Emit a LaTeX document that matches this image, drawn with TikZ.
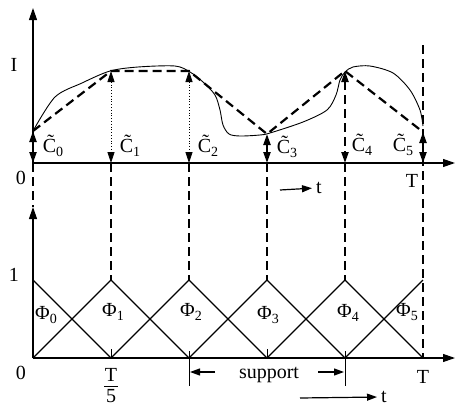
\documentclass[tikz,border=0pt]{standalone}
\usepackage{fontspec}
\setmainfont{Liberation Serif}
\usetikzlibrary{arrows.meta}
\newcommand{\ctil}[1]{\~{C}\raisebox{-0.45ex}{\fontsize{14}{16}\selectfont #1}}
\newcommand{\phil}[1]{Φ\raisebox{-0.4ex}{\fontsize{14}{16}\selectfont #1}}
\begin{document}
\begin{tikzpicture}[x=1pt,y=-1pt,font=\fontsize{20}{23}\selectfont,
  axis/.style={line width=1.2pt,-{Triangle[length=12pt,width=8pt]}},
  hat/.style={line width=1.4pt},
  guide/.style={line width=2.2pt,dash pattern=on 9pt off 5pt},
  cval/.style={{Triangle[length=11pt,width=7pt]}-{Triangle[length=11pt,width=7pt]}},
  small/.style={line width=1.2pt,-{Triangle[length=10pt,width=7pt]}}]
\useasboundingbox (0,0) rectangle (456,407);
\foreach \i/\xx in {0/33,1/111,2/189,3/267,4/345,5/423} {
  \coordinate (a\i) at (\xx,163);
  \coordinate (p\i) at (\xx,280);
  \coordinate (b\i) at (\xx,358);
}
\coordinate (c0) at (33,131);
\coordinate (c1) at (111,71);
\coordinate (c2) at (189,71);
\coordinate (c3) at (267,134);
\coordinate (c4) at (345,71);
\coordinate (c5) at (423,132);
\coordinate (itop) at (33,8);
\coordinate (uend) at (455,163);
\coordinate (ltop) at (33,207);
\coordinate (lend) at (455,358);
\coordinate (ttop) at (423,45);
% axes
\draw[axis] (a0) -- (itop);
\draw[axis] (a0) -- (uend);
\draw[axis] (b0) -- (ltop);
\draw[axis] (b0) -- (lend);
% signal and its linear approximation
\draw[line width=0.9pt] plot[smooth,tension=0.5] coordinates {(33,131) (55,97) (82,83) (110,71) (138,67) (175,66) (190,72) (203,82) (215,95) (220,110) (223,125) (229,134) (240,136) (260,135) (270,133) (303,122) (327,110) (336,95) (340,80) (345,72) (353,67) (370,66) (393,73) (410,90) (420,110) (423,126)};
\draw[guide] (c0) -- (c1) -- (c2) -- (c3) -- (c4) -- (c5);
% coefficients
\draw[cval,guide] (c0) -- (a0);
\draw[cval,line width=0.8pt,dotted] (c1) -- (a1);
\draw[cval,line width=0.8pt,dotted] (c2) -- (a2);
\draw[cval,guide] (c3) -- (a3);
\draw[cval,guide] (c4) -- (a4);
\draw[cval,guide] (c5) -- (a5);
\draw[guide] (a0) -- (ltop);
\foreach \i in {1,...,4} \draw[guide] (a\i) -- (p\i);
\draw[guide] (ttop) -- (b5);
% hat functions
\draw[hat] (p0) -- (b1);
\foreach \i/\j/\k in {0/1/2,1/2/3,2/3/4,3/4/5} \draw[hat] (b\i) -- (p\j) -- (b\k);
\draw[hat] (b4) -- (p5);
\draw[line width=0.8pt] (111,349) -- (b1);
\draw[line width=0.8pt] (267,349) -- (b3);
\draw[line width=0.8pt] (189,351) -- (189,386);
\draw[line width=0.8pt] (345,351) -- (345,386);
% labels
\node (lI) at (14,65) {I};
\node (l0u) at (21,178) {0};
\node (lTu) at (412,181) {T};
\node (l1) at (14,275) {1};
\node (l0l) at (21,373) {0};
\node[inner sep=1pt] (lTn) at (111,375) {T};
\node[inner sep=1pt] (lTd) at (111,396) {5};
\draw[line width=0.7pt] (104,386) -- (118,386);
\node (lTl) at (423,377) {T};
\node (lsup) at (269,375) {support};
\node[inner sep=1pt] (tu) at (319,188) {t};
\node[inner sep=1pt] (tl) at (384,397) {t};
\coordinate (tua) at (280,190);
\draw[small,shorten >=3pt] (tua) -- (tu.west);
\coordinate (tla) at (300,398);
\draw[small,shorten >=3pt] (tla) -- (tl.west);
\coordinate (sl) at (215,372);
\coordinate (sl2) at (190,372);
\coordinate (sr) at (318,372);
\coordinate (sr2) at (344,372);
\draw[small] (sl) -- (sl2);
\draw[small] (sr) -- (sr2);
\node (C0) at (53,146) {\ctil{0}};
\node (C1) at (130,146) {\ctil{1}};
\node (C2) at (208,146) {\ctil{2}};
\node (C3) at (287,147) {\ctil{3}};
\node (C4) at (362,145) {\ctil{4}};
\node (C5) at (403,145) {\ctil{5}};
\node (F0) at (46,315) {\phil{0}};
\node (F1) at (113,312) {\phil{1}};
\node (F2) at (191,312) {\phil{2}};
\node (F3) at (268,315) {\phil{3}};
\node (F4) at (348,313) {\phil{4}};
\node (F5) at (407,312) {\phil{5}};
\end{tikzpicture}
\end{document}
